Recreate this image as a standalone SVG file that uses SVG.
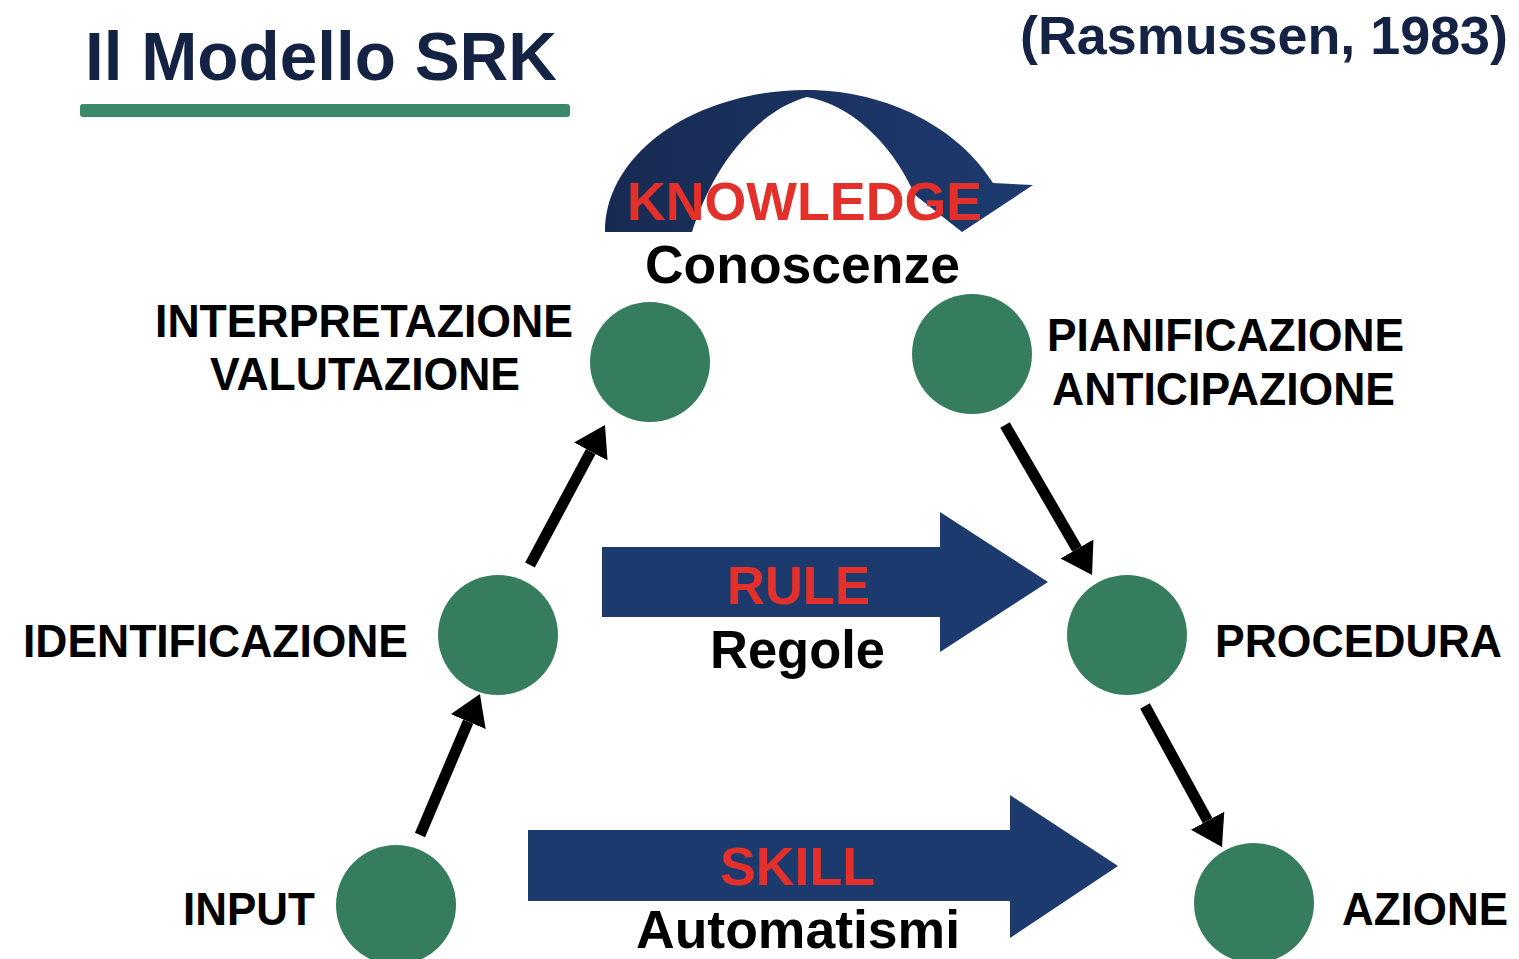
<svg xmlns="http://www.w3.org/2000/svg" width="1519" height="959" viewBox="0 0 1519 959">
<defs>
<style>
.lbl{font-family:"Liberation Sans",Arial,sans-serif;font-weight:bold;font-size:46px;fill:#000}
.red{font-family:"Liberation Sans",Arial,sans-serif;font-weight:bold;font-size:53px;fill:#e3302a}
.blk{font-family:"Liberation Sans",Arial,sans-serif;font-weight:bold;font-size:53px;fill:#000}
.node{fill:#367d5e}
.band{fill:#1c3a6e}
.conn{stroke:#000;stroke-width:11;fill:none;marker-end:url(#ah)}
</style>
<marker id="ah" markerUnits="userSpaceOnUse" viewBox="0 0 30 38" markerWidth="30" markerHeight="38" refX="0" refY="19" orient="auto">
<path d="M0,0 L30,19 L0,38 Z" fill="#000"/>
</marker>
<linearGradient id="kg" x1="0" y1="0" x2="1" y2="0">
<stop offset="0" stop-color="#172a52"/>
<stop offset="1" stop-color="#1d3b70"/>
</linearGradient>
</defs>
<rect width="1519" height="959" fill="#fff"/>

<g id="title">
<text x="85" y="80" font-family="'Liberation Sans',Arial,sans-serif" font-weight="bold" font-size="68" fill="#142244" textLength="472" lengthAdjust="spacingAndGlyphs">Il Modello SRK</text>
<rect x="80" y="104" width="490" height="13" rx="3" fill="#3a8a6a"/>
</g>
<g id="citation">
<text x="1020" y="54" font-family="'Liberation Sans',Arial,sans-serif" font-weight="bold" font-size="53" fill="#142244" textLength="488" lengthAdjust="spacingAndGlyphs">(Rasmussen, 1983)</text>
</g>

<g id="knowledge">
<path d="M605,232 C605,150 700,90 806,90 C890,90 960,130 993,183 L1033,185 L962,232 L915,195 C890,140 850,105 807,97 C760,110 715,160 692,232 Z" fill="url(#kg)"/>
<text class="red" x="627" y="220" textLength="355" lengthAdjust="spacingAndGlyphs">KNOWLEDGE</text>
<text class="blk" x="645" y="283" textLength="315" lengthAdjust="spacingAndGlyphs">Conoscenze</text>
</g>

<g id="rule">
<path class="band" d="M602,547 L940,547 L940,512 L1048,582 L940,652 L940,617 L602,617 Z"/>
<text class="red" x="727" y="604" textLength="143" lengthAdjust="spacingAndGlyphs">RULE</text>
<text class="blk" x="710" y="668" textLength="175" lengthAdjust="spacingAndGlyphs">Regole</text>
</g>

<g id="skill">
<path class="band" d="M528,830 L1010,830 L1010,795 L1118,866 L1010,938 L1010,901 L528,901 Z"/>
<text class="red" x="720" y="885" textLength="155" lengthAdjust="spacingAndGlyphs">SKILL</text>
<text class="blk" x="636" y="948" textLength="324" lengthAdjust="spacingAndGlyphs">Automatismi</text>
</g>

<g id="connectors">
<path class="conn" d="M420,835 L468.2,721.6"/>
<path class="conn" d="M530,565 L590.8,451.5"/>
<path class="conn" d="M1005,425 L1077,549"/>
<path class="conn" d="M1145,706 L1207.6,820.7"/>
</g>

<g id="node-input">
<circle class="node" cx="396" cy="905" r="60"/>
<text class="lbl" x="183" y="925" textLength="132" lengthAdjust="spacingAndGlyphs">INPUT</text>
</g>
<g id="node-identificazione">
<circle class="node" cx="498" cy="635" r="60"/>
<text class="lbl" x="23" y="657" textLength="385" lengthAdjust="spacingAndGlyphs">IDENTIFICAZIONE</text>
</g>
<g id="node-interpretazione">
<circle class="node" cx="650" cy="362" r="60"/>
<text class="lbl" x="155" y="337" textLength="418" lengthAdjust="spacingAndGlyphs">INTERPRETAZIONE</text>
<text class="lbl" x="210" y="390" textLength="310" lengthAdjust="spacingAndGlyphs">VALUTAZIONE</text>
</g>
<g id="node-pianificazione">
<circle class="node" cx="972" cy="354" r="60"/>
<text class="lbl" x="1047" y="351" textLength="357" lengthAdjust="spacingAndGlyphs">PIANIFICAZIONE</text>
<text class="lbl" x="1052" y="405" textLength="343" lengthAdjust="spacingAndGlyphs">ANTICIPAZIONE</text>
</g>
<g id="node-procedura">
<circle class="node" cx="1127" cy="635" r="60"/>
<text class="lbl" x="1215" y="657" textLength="287" lengthAdjust="spacingAndGlyphs">PROCEDURA</text>
</g>
<g id="node-azione">
<circle class="node" cx="1254" cy="903" r="60"/>
<text class="lbl" x="1342" y="925" textLength="166" lengthAdjust="spacingAndGlyphs">AZIONE</text>
</g>
</svg>
